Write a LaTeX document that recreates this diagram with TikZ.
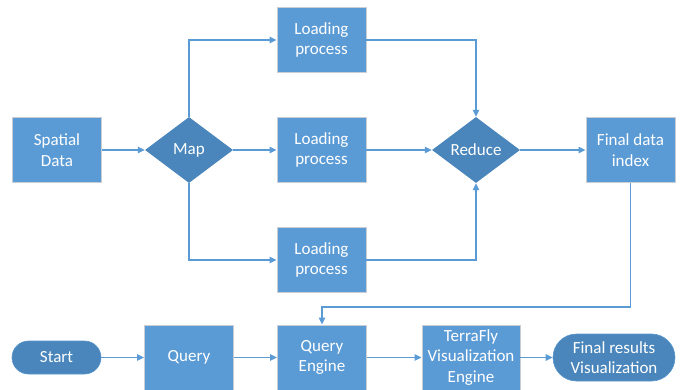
\documentclass[tikz,border=0pt]{standalone}
\usepackage{fontspec}
\setmainfont{Carlito}
\usetikzlibrary{shapes.geometric,arrows.meta}
\definecolor{boxblue}{HTML}{5B9BD5}
\definecolor{darkblue}{HTML}{4A86BB}
\definecolor{edgegray}{HTML}{C9CED4}
\tikzset{
  base/.style={text=white, font=\fontsize{17}{20.5}\selectfont, align=center, inner sep=0pt},
  procbox/.style={base, rectangle, fill=boxblue, draw=edgegray, line width=0.9pt, minimum width=89pt, minimum height=65pt},
  decision/.style={base, diamond, fill=darkblue, draw=none, minimum width=88pt, minimum height=66pt, aspect=1.33},
  terminal/.style={base, rectangle, fill=darkblue, draw=boxblue!70!darkblue, line width=0.6pt},
  conn/.style={draw=boxblue, line width=1.2pt, -{Triangle[length=7pt,width=6.5pt]}}
}
\begin{document}
\begin{tikzpicture}[x=1pt,y=-1pt]
\useasboundingbox (0,0) rectangle (684,390);
% top part
\node[procbox] (sd) at (57,150) {Spatial\\Data};
\node[decision] (map) at (189,150) {};
\node[base] (maplabel) at (189,150) {Map};
\node[procbox] (l1) at (321.5,40) {Loading\\process};
\node[procbox] (l2) at (321.5,150) {Loading\\process};
\node[procbox] (l3) at (321.5,260) {Loading\\process};
\node[decision] (red) at (476,150) {};
\node[base] (redlabel) at (476,150) {Reduce};
\node[procbox] (fdi) at (630.5,150) {Final data\\index};
% bottom row
\node[terminal, minimum width=89pt, minimum height=33pt, rounded corners=16.5pt] (start) at (56.5,357.5) {Start};
\node[procbox] (q) at (189,357.5) {Query};
\node[procbox] (qe) at (322,357.5) {Query\\Engine};
\node[procbox, minimum width=98pt] (tf) at (471,357.5) {TerraFly\\Visualization\\Engine};
\node[terminal, minimum width=122pt, minimum height=47pt, rounded corners=23.5pt] (fr) at (614,357.5) {Final results\\Visualization};
\coordinate (c1) at (630.5,307);
\coordinate (c2) at (322,307);
% connectors
\draw[conn] (sd) -- (map);
\draw[conn] (map) -- (l2);
\draw[conn] (map.north) |- (l1.west);
\draw[conn] (map.south) |- (l3.west);
\draw[conn] (l1.east) -| (red.north);
\draw[conn] (l2) -- (red);
\draw[conn] (l3.east) -| (red.south);
\draw[conn] (red) -- (fdi);
\draw[conn] (fdi.south) -- (c1) -- (c2) -- (qe.north);
\draw[conn] (start) -- (q);
\draw[conn] (q) -- (qe);
\draw[conn] (qe) -- (tf);
\draw[conn] (tf) -- (fr);
\end{tikzpicture}
\end{document}
